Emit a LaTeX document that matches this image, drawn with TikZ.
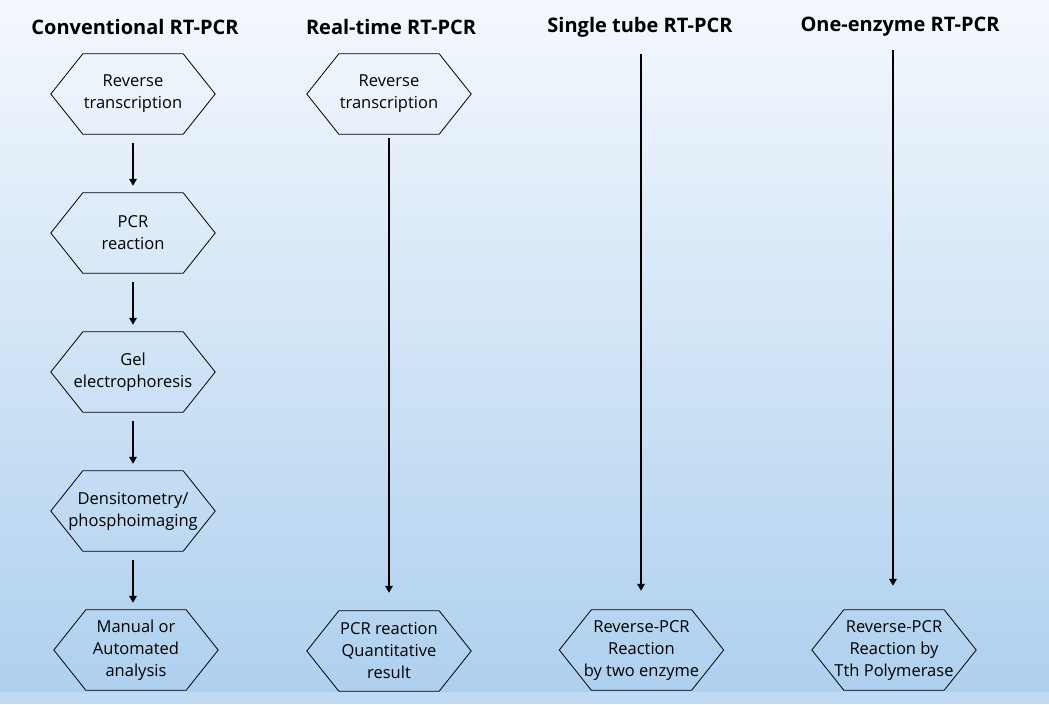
\documentclass[tikz,border=0pt]{standalone}
\usepackage{fontspec}
\setmainfont{Open Sans}
\usetikzlibrary{arrows.meta,positioning}
\definecolor{bgtop}{RGB}{244,248,253}
\definecolor{bgbot}{RGB}{174,208,239}
\definecolor{bgstrip}{RGB}{192,218,243}
\tikzset{
hexa/.style={rectangle, minimum width=164pt, minimum height=80pt, inner sep=0pt, align=center, font=\fontsize{16.5}{22}\selectfont},
hexline/.style={draw, line width=0.8pt, line join=miter},
title/.style={font=\bfseries\fontsize{20}{22}\selectfont},
line/.style={draw, line width=1.7pt, -{Triangle[length=7pt,width=7.5pt]}}
}

\begin{document}
\begin{tikzpicture}[x=1pt, y=-1pt, node distance=139pt]
    % Background
    \shade [top color=bgtop, bottom color=bgbot] (0,0) rectangle (1049,692);
    \fill [bgstrip] (0,692) rectangle (1049,704);
    \useasboundingbox (0,0) rectangle (1049,704);
    % Titles
    \node [title] (conv) at (135,27) {Conventional RT-PCR};
    \node [title] (real) at (391,27) {Real-time RT-PCR};
    \node [title] (single) at (640,27) {Single tube RT-PCR};
    \node [title] (one) at (900,27) {One-enzyme RT-PCR};
    % Conventional
    \node [hexa] (rt) at (133,94) {Reverse\\transcription};
    \node [hexa, below of=rt] (pcr) {PCR\\reaction};
    \node [hexa, below of=pcr] (gel) {Gel\\electrophoresis};
    \node [hexa, below of=gel] (dens) {Densitometry/\\phosphoimaging};
    \node [hexa, below of=dens, xshift=3pt] (manual) {Manual or\\Automated\\analysis};
    % Real-time
    \node [hexa] (rtreal) at (389,94) {Reverse\\transcription};
    \node [hexa] (quant) at (389,651) {PCR reaction\\Quantitative\\result};
    % Single tube
    \coordinate (singletop) at (641,54);
    \node [hexa] (twoenz) at (641.5,650) {Reverse-PCR\\Reaction\\by two enzyme};
    % One-enzyme
    \coordinate (onetop) at (893,50);
    \node [hexa] (tth) at (894,650) {Reverse-PCR\\Reaction by\\Tth Polymerase};
    % Hexagon outlines
    \foreach \n in {rt,pcr,gel,dens,manual,rtreal,quant,twoenz,tth}
        \path [hexline] ([xshift=32pt]\n.north west) -- ([xshift=-32pt]\n.north east) -- (\n.east)
            -- ([xshift=-32pt]\n.south east) -- ([xshift=32pt]\n.south west) -- (\n.west) -- cycle;
    % Draw edges
    \path [line, shorten <=9pt, shorten >=7pt] (rt) -- (pcr);
    \path [line, shorten <=9pt, shorten >=7pt] (pcr) -- (gel);
    \path [line, shorten <=9pt, shorten >=7pt] (gel) -- (dens);
    \path [line, shorten <=9pt, shorten >=7pt] (dens) -- (manual.north -| dens);
    \path [line, shorten <=4pt, shorten >=18pt] (rtreal) -- (quant);
    \path [line, shorten >=19pt] (singletop) -- (singletop |- twoenz.north);
    \path [line, shorten >=24pt] (onetop) -- (onetop |- tth.north);
\end{tikzpicture}
\end{document}
